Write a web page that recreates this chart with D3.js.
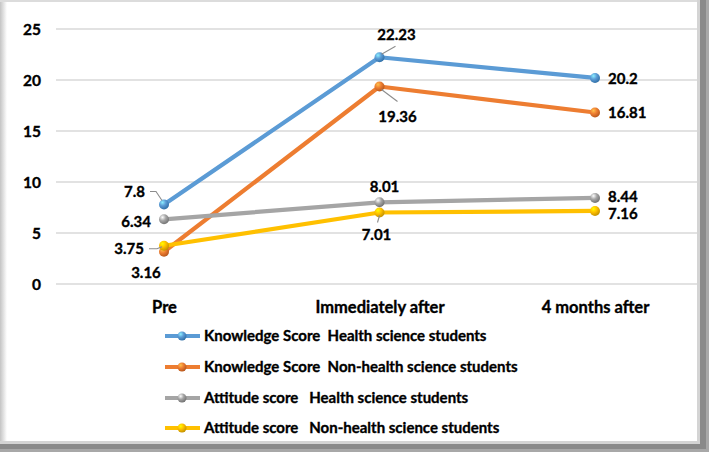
<!DOCTYPE html>
<html><head><meta charset="utf-8">
<script src="https://cdn.jsdelivr.net/npm/d3@7"></script>
<style>body{margin:0;background:#fff}svg{display:block}text{font-family:Lato,"Open Sans",sans-serif;font-weight:700;fill:#000;stroke:#000;stroke-width:0.35px}</style>
</head><body><svg id="c" width="709" height="452"></svg>
<script>
const categories = ["Pre", "Immediately after", "4 months after"];
const seriesNames = ["Knowledge Score  Health science students", "Knowledge Score  Non-health science students", "Attitude score   Health science students", "Attitude score   Non-health science students"];
const knowledgeHealth = [7.8, 22.23, 20.2];
const knowledgeNonHealth = [3.16, 19.36, 16.81];
const attitudeHealth = [6.34, 8.01, 8.44];
const attitudeNonHealth = [3.75, 7.01, 7.16];
const yTicks = [0, 5, 10, 15, 20, 25];
const colors = ["#5B9BD5", "#ED7D31", "#A5A5A5", "#FFC000"];
const darkColors = ["#2E6DA4", "#B3541A", "#6E6E6E", "#BF8F00"];
// label placement: [dx, dy, anchor, leader path relative to point or null]
const labelPlacement = [
  [[-19,-13,"end",[[-14,-13],[-8,-13],[-2,-4]]],[17,-23,"middle",[[2,-3],[16,-11]]],[13,1,"start",null]],
  [[-18,21,"middle",null],[18,30,"middle",[[2,3],[18,15]]],[13,0,"start",null]],
  [[-13,2,"end",null],[5,-16,"middle",null],[13,-1,"start",null]],
  [[-20,3,"end",[[-15,3],[-7,3],[-2,1]]],[-3,22,"middle",[[0,3],[-2,10]]],[13,3,"start",null]]
];
const series = [knowledgeHealth, knowledgeNonHealth, attitudeHealth, attitudeNonHealth];

const svg = d3.select("#c");
const W = 709, H = 452;
// frame
const defs = svg.append("defs");
const lg = defs.append("linearGradient").attr("id","lg").attr("x1",0).attr("x2",1);
lg.append("stop").attr("offset",0).attr("stop-color","#c4c4c4");
lg.append("stop").attr("offset",1).attr("stop-color","#ffffff");
svg.append("rect").attr("x",0).attr("y",0).attr("width",W).attr("height",H).attr("fill","#fff");
svg.append("rect").attr("x",0).attr("y",0).attr("width",7).attr("height",H).attr("fill","url(#lg)");
svg.append("rect").attr("x",0).attr("y",0).attr("width",W).attr("height",2).attr("fill","#dcdcdc");
svg.append("rect").attr("x",697).attr("y",0).attr("width",3).attr("height",446).attr("fill","#d4d4d4");
svg.append("rect").attr("x",700).attr("y",0).attr("width",6).attr("height",449).attr("fill","#8a8a8a");
svg.append("rect").attr("x",706).attr("y",0).attr("width",3).attr("height",H).attr("fill","#a8a8a8");
svg.append("rect").attr("x",0).attr("y",441).attr("width",700).attr("height",3).attr("fill","#d4d4d4");
svg.append("rect").attr("x",0).attr("y",444).attr("width",706).attr("height",5).attr("fill","#8a8a8a");
svg.append("rect").attr("x",0).attr("y",449).attr("width",W).attr("height",3).attr("fill","#a8a8a8");

// marker gradients
colors.forEach((c,i)=>{
  const g = defs.append("radialGradient").attr("id","m"+i).attr("cx","35%").attr("cy","30%").attr("r","75%");
  g.append("stop").attr("offset",0).attr("stop-color",d3.color(c).brighter(1.2));
  g.append("stop").attr("offset",0.45).attr("stop-color",c);
  g.append("stop").attr("offset",1).attr("stop-color",darkColors[i]);
});

const x = d3.scalePoint().domain(categories).range([164, 595]);
const y = d3.scaleLinear().domain([0,25]).range([284, 29]);

// grid
svg.append("g").selectAll("line").data(yTicks).join("line")
  .attr("x1",56).attr("x2",697).attr("y1",d=>y(d)).attr("y2",d=>y(d))
  .attr("stroke","#d9d9d9").attr("stroke-width",1.3);

// y axis
const ya = svg.append("g").attr("transform","translate(41,0)")
  .call(d3.axisLeft(y).tickValues(yTicks).tickSize(0).tickPadding(0));
ya.select(".domain").remove();
ya.selectAll("text").style("font-size","15.5px").attr("dy","0.36em");

// x axis
const xa = svg.append("g").attr("transform","translate(0,307)")
  .call(d3.axisBottom(x).tickSize(0).tickPadding(0));
xa.select(".domain").remove();
xa.selectAll("text").style("font-size","16.5px").attr("dy","0.36em");

const line = d3.line().x((d,i)=>x(categories[i])).y(d=>y(d));
series.forEach((s,i)=>{
  svg.append("path").datum(s).attr("d",line).attr("fill","none")
    .attr("stroke",colors[i]).attr("stroke-width",4.2).attr("stroke-linejoin","round");
});
series.forEach((s,i)=>{
  svg.append("g").selectAll("circle").data(s).join("circle")
    .attr("cx",(d,j)=>x(categories[j])).attr("cy",d=>y(d)).attr("r",5)
    .attr("fill","url(#m"+i+")");
});
// labels
series.forEach((s,i)=>{
  s.forEach((v,j)=>{
    const [dx,dy,anchor,leader] = labelPlacement[i][j];
    const px = x(categories[j]), py = y(v);
    if(leader){
      svg.append("path").attr("d", d3.line()(leader.map(p=>[px+p[0],py+p[1]])))
        .attr("fill","none").attr("stroke","#8c8c8c").attr("stroke-width",1.1);
    }
    svg.append("text").attr("x",px+dx).attr("y",py+dy).attr("dy","0.36em")
      .attr("text-anchor",anchor).style("font-size","15px").text(v);
  });
});

// legend
const legRows = [336, 367, 398, 428];
seriesNames.forEach((n,i)=>{
  const g = svg.append("g").attr("transform",`translate(0,${legRows[i]})`);
  g.append("line").attr("x1",165).attr("x2",200).attr("stroke",colors[i]).attr("stroke-width",4.2);
  g.append("circle").attr("cx",182).attr("cy",0).attr("r",4.5).attr("fill","url(#m"+i+")");
  g.append("text").attr("x",204).attr("dy","0.36em").style("font-size","15px").style("white-space","pre").text(n);
});
</script></body></html>
